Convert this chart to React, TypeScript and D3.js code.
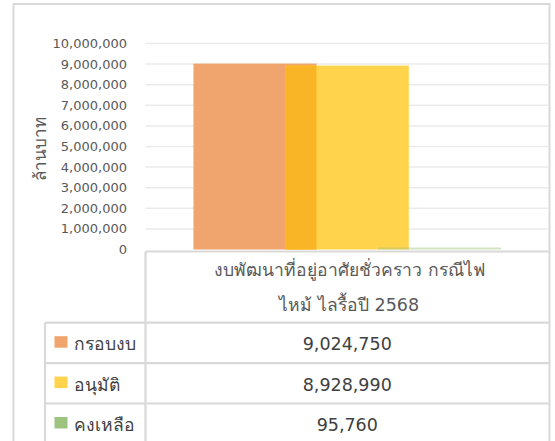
import React from "react";
import * as d3 from "d3";

const categories = ["งบพัฒนาที่อยู่อาศัยชั่วคราว กรณีไฟไหม้ ไลรื้อปี 2568"];
const categoryLines = ["งบพัฒนาที่อยู่อาศัยชั่วคราว กรณีไฟ", "ไหม้ ไลรื้อปี 2568"];
const seriesNames = ["กรอบงบ", "อนุมัติ", "คงเหลือ"];
const seriesValues = [9024750, 8928990, 95760];
const seriesColors = ["#F0A56F", "#FFD34C", "#9DC47E"];
const overlapColor = "#F9B525";
const yTicks = [0, 1000000, 2000000, 3000000, 4000000, 5000000, 6000000, 7000000, 8000000, 9000000, 10000000];
const yTitle = "ล้านบาท";

const W = 555;
const H = 441;
const plotLeft = 145.5;
const plotRight = 549;
const plotTop = 43.5;
const plotBottom = 249.5;
const tableTop = 251.5;
const headerBottom = 322.7;
const rowH = 40.4;
const tableLeft = 45;

const FONT_NUM = "'DejaVu Sans', Verdana, sans-serif";
const FONT_TH = "Tahoma, 'Leelawadee UI', 'DejaVu Sans', sans-serif";

export default function App() {
  const x = d3.scaleBand<string>().domain(categories).range([plotLeft, plotRight]).padding(0);
  const y = d3.scaleLinear().domain([0, 10000000]).range([plotBottom, plotTop]);
  const band = x.bandwidth();
  const barW = band * 0.305;
  const step = barW * 0.75;
  const groupW = barW + step * (seriesValues.length - 1);
  const x0 = (x(categories[0]) ?? 0) + (band - groupW) / 2;
  const fmt = d3.format(",");

  const bars = seriesValues.map((v, i) => ({
    x: x0 + i * step,
    y: y(v),
    h: y(0) - y(v),
    color: seriesColors[i],
  }));
  // overlap region of series 0 and 1 (Excel style)
  const ovX = bars[1].x;
  const ovW = bars[0].x + barW - bars[1].x;
  const ovTop = y(Math.min(seriesValues[0], seriesValues[1]));

  const cx = (plotLeft + plotRight) / 2;
  const grid = "#D9D9D9";

  return (
    <svg width={W} height={H} style={{ position: "absolute", left: 0, top: 0 }}>
      <rect x={0} y={0} width={W} height={H} fill="#fff" />
      {/* outer border */}
      <rect x={13.5} y={4} width={536} height={460} fill="none" stroke={grid} strokeWidth={2} />
      {/* gridlines */}
      {yTicks.slice(1).map((t) => (
        <line key={t} x1={plotLeft} x2={plotRight} y1={y(t)} y2={y(t)} stroke="#EBEBEB" strokeWidth={1.5} />
      ))}
      {/* tick labels */}
      {yTicks.map((t) => (
        <text key={t} x={127} y={y(t)} dy="0.35em" textAnchor="end" fontFamily={FONT_NUM} fontSize={13} fill="#595959">
          {fmt(t)}
        </text>
      ))}
      {/* y title */}
      <text transform={`translate(46,149) rotate(-90)`} textAnchor="middle" fontFamily={FONT_TH} fontSize={17} fill="#595959">
        {yTitle}
      </text>
      {/* bars */}
      {bars.map((b, i) => (
        <rect key={i} x={b.x} y={b.y} width={barW} height={b.h} fill={b.color} opacity={i === 2 ? 0.45 : 1} />
      ))}
      <rect x={ovX} y={ovTop} width={ovW} height={y(0) - ovTop} fill={overlapColor} />
      {/* table */}
      <g stroke={grid} strokeWidth={2.2} fill="none">
        <line x1={plotLeft} x2={plotRight + 1} y1={tableTop} y2={tableTop} />
        <line x1={plotLeft} x2={plotLeft} y1={tableTop} y2={H} />
        {seriesNames.map((_, i) => (
          <line key={i} x1={tableLeft} x2={plotRight} y1={headerBottom + i * rowH} y2={headerBottom + i * rowH} />
        ))}
        <line x1={tableLeft} x2={tableLeft} y1={headerBottom} y2={H} />
      </g>
      {categoryLines.map((l, i) => (
        <text key={i} x={cx + 2} y={276 + i * 35} textAnchor="middle" fontFamily={FONT_TH} fontSize={17.5} fill="#595959">
          {l}
        </text>
      ))}
      {seriesNames.map((n, i) => {
        const top = headerBottom + i * rowH;
        const base = top + 27.5;
        return (
          <g key={n}>
            <rect x={54.5} y={top + 13.5} width={13} height={11.5} fill={seriesColors[i]} />
            <text x={73.5} y={base} fontFamily={FONT_TH} fontSize={17.5} fill="#404040">
              {n}
            </text>
            <text x={cx} y={base} textAnchor="middle" fontFamily={FONT_TH} fontSize={17.5} fill="#404040">
              {fmt(seriesValues[i])}
            </text>
          </g>
        );
      })}
    </svg>
  );
}
